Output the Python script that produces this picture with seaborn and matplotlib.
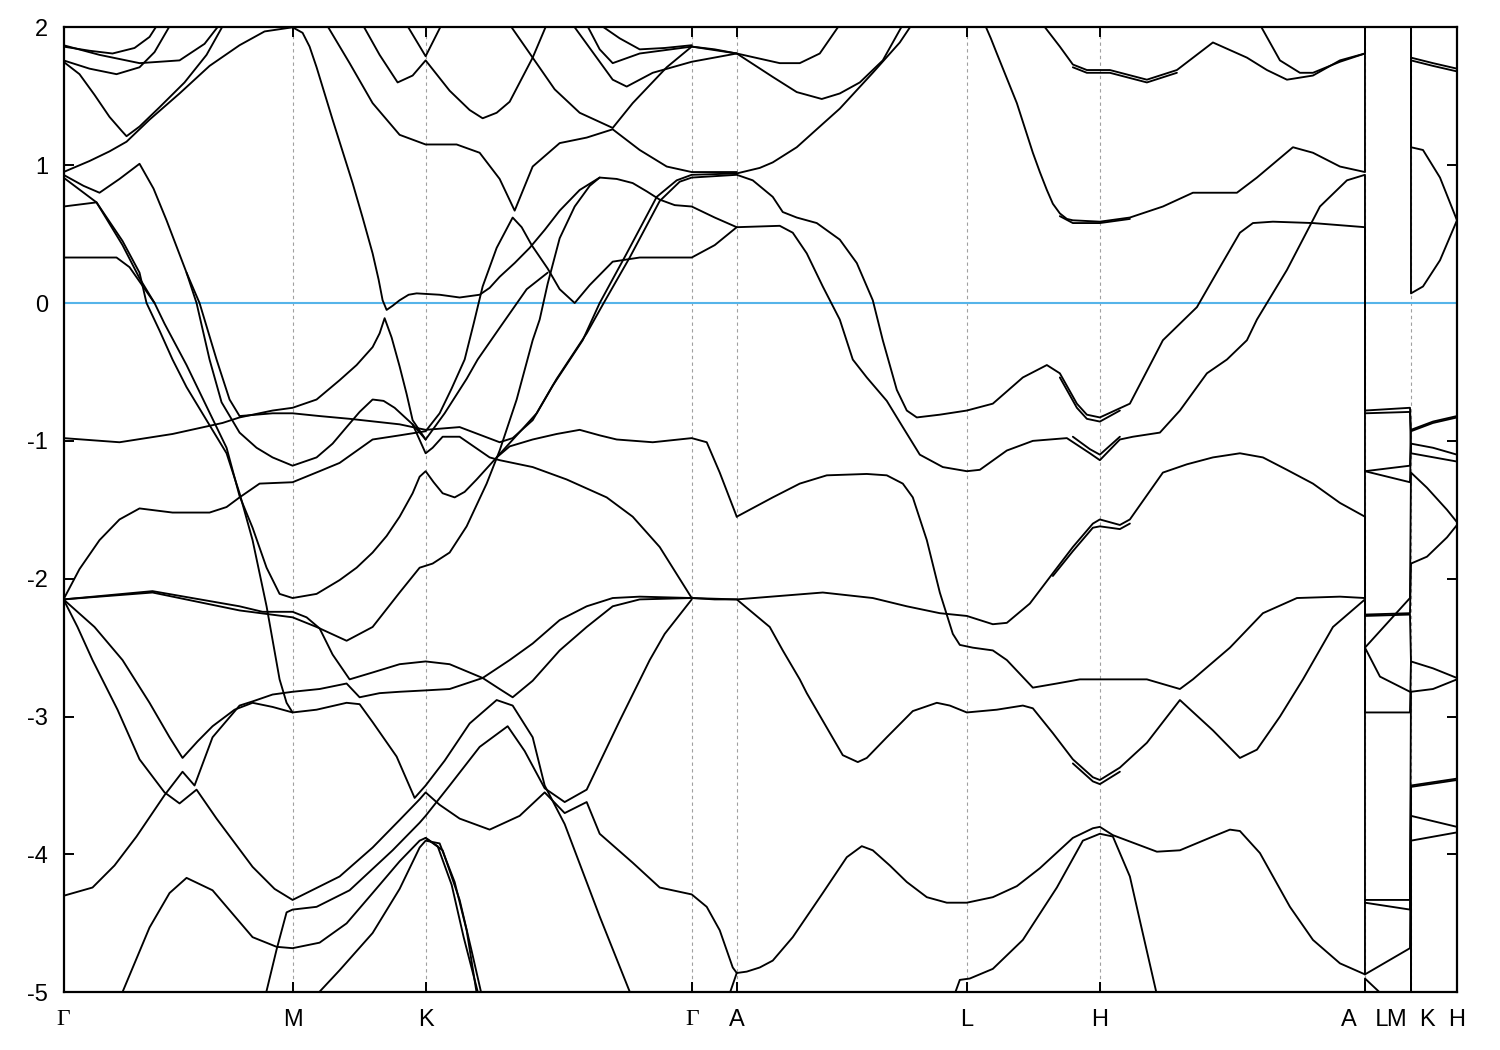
import matplotlib
matplotlib.use("Agg")
import matplotlib.pyplot as plt
import pandas as pd
import seaborn as sns

# high-symmetry path (k-path length, arbitrary units)
kpath = [0.0, 2.29, 3.62, 6.28, 6.73, 9.03, 10.36, 13.01, 13.47, 13.925]
klabels = ["Γ", "M", "K", "Γ", "A", "L", "H", "A   L", "M  K", "H"]
yticks = [2, 1, 0, -1, -2, -3, -4, -5]

# bands as (k, E) points; repeated k = path discontinuity
c01 = [(0, 1.86), (0.26, 1.83), (0.49, 1.81), (0.71, 1.85), (0.86, 1.93), (0.94, 2.02)]
c02 = [(0, 1.87), (0.36, 1.80), (0.76, 1.74), (1.16, 1.76), (1.41, 1.88), (1.56, 2.02)]
c03 = [(0, 1.76), (0.26, 1.70), (0.53, 1.66), (0.76, 1.71), (0.91, 1.82), (1.07, 2.02)]
c04 = [(0, 1.75), (0.16, 1.66), (0.31, 1.51), (0.46, 1.35), (0.58, 1.25), (0.63, 1.21),
       (0.76, 1.28), (0.96, 1.42), (1.21, 1.60), (1.43, 1.80), (1.60, 2.02)]
c05 = [(0, 0.95), (0.26, 1.03), (0.46, 1.10), (0.63, 1.17), (0.86, 1.33), (1.16, 1.52),
       (1.46, 1.72), (1.76, 1.87), (2.01, 1.97), (2.29, 2.0), (2.39, 1.96), (2.46, 1.86),
       (2.53, 1.71), (2.61, 1.52), (2.69, 1.33), (2.79, 1.10), (2.89, 0.87), (2.99, 0.62),
       (3.09, 0.36), (3.15, 0.17), (3.19, 0.02), (3.23, -0.05), (3.29, -0.02), (3.36, 0.02),
       (3.45, 0.06), (3.53, 0.07), (3.76, 0.06), (3.96, 0.04), (4.16, 0.06), (4.26, 0.11),
       (4.36, 0.19), (4.51, 0.29), (4.66, 0.40), (4.81, 0.53), (4.96, 0.67), (5.16, 0.82),
       (5.36, 0.91), (5.53, 0.90), (5.69, 0.87), (5.83, 0.81), (5.96, 0.75), (6.11, 0.71),
       (6.28, 0.70), (6.51, 0.62), (6.73, 0.55)]
c06 = [(0, 0.93), (0.20, 0.85), (0.36, 0.80), (0.56, 0.90), (0.76, 1.01), (0.90, 0.83),
       (1.03, 0.60), (1.13, 0.41), (1.23, 0.22), (1.33, 0.0), (1.46, -0.41), (1.58, -0.72),
       (1.76, -0.94), (1.93, -1.05), (2.09, -1.12), (2.29, -1.18), (2.53, -1.12), (2.69, -1.02),
       (2.83, -0.90), (2.96, -0.79), (3.09, -0.70), (3.20, -0.71), (3.31, -0.76),
       (3.49, -0.88), (3.62, -0.99)]
c07 = [(0, 0.91), (0.33, 0.73), (0.59, 0.45), (0.76, 0.22), (0.83, 0.0), (0.96, -0.20),
       (1.09, -0.41), (1.23, -0.61), (1.43, -0.85), (1.63, -1.09), (1.76, -1.38),
       (1.89, -1.72), (2.03, -2.20), (2.16, -2.73), (2.23, -2.90), (2.29, -2.97)]
c08 = [(0, 0.70), (0.33, 0.73), (0.59, 0.42), (0.76, 0.18), (0.91, 0.0), (1.01, -0.15),
       (1.23, -0.45), (1.43, -0.75), (1.63, -1.05), (1.76, -1.40), (1.89, -1.63),
       (2.03, -1.92), (2.16, -2.11), (2.29, -2.14), (2.53, -2.11), (2.76, -2.01), (2.93, -1.92),
       (3.09, -1.81), (3.23, -1.69), (3.36, -1.55), (3.49, -1.38), (3.56, -1.26), (3.62, -1.22),
       (3.70, -1.30), (3.79, -1.38), (3.91, -1.41), (4.01, -1.37), (4.13, -1.28), (4.33, -1.12),
       (4.46, -1.04), (4.69, -0.99), (4.93, -0.95), (5.16, -0.92), (5.36, -0.96), (5.53, -0.99),
       (5.89, -1.01), (6.28, -0.98), (6.43, -1.01), (6.56, -1.23), (6.73, -1.55)]
c09 = [(0, 0.33), (0.53, 0.33), (0.66, 0.26), (0.91, 0.0)]
c10 = [(0, -0.98), (0.56, -1.01), (1.09, -0.95), (1.59, -0.87), (1.76, -0.83), (2.09, -0.78),
       (2.29, -0.76), (2.53, -0.70), (2.76, -0.56), (2.93, -0.45), (3.09, -0.32), (3.16, -0.22),
       (3.21, -0.11), (3.28, -0.25), (3.36, -0.46), (3.43, -0.66), (3.49, -0.85), (3.62, -0.99)]
c11 = [(1.23, 0.22), (1.36, 0.0), (1.53, -0.41), (1.66, -0.70), (1.76, -0.82), (2.09, -0.80),
       (2.29, -0.80), (2.56, -0.82), (2.86, -0.84), (3.36, -0.88), (3.62, -0.92),
       (3.96, -0.90), (4.36, -1.01), (4.49, -0.98), (4.69, -0.85), (4.89, -0.60),
       (5.19, -0.27), (5.36, 0.0), (5.63, 0.36), (5.93, 0.77), (6.13, 0.89), (6.28, 0.93),
       (6.73, 0.94), (6.96, 0.98), (7.09, 1.02), (7.33, 1.13), (7.56, 1.28), (7.76, 1.41),
       (8.09, 1.67), (8.36, 1.89), (8.48, 2.02)]
c12 = [(4.33, -1.12), (4.53, -0.96), (4.73, -0.80), (4.93, -0.55), (5.23, -0.22), (5.40, 0.0),
       (5.66, 0.33), (5.96, 0.74), (6.16, 0.88), (6.28, 0.91), (6.73, 0.93), (6.89, 0.89),
       (7.09, 0.77), (7.19, 0.66), (7.33, 0.62), (7.53, 0.58), (7.76, 0.46), (7.93, 0.29),
       (8.09, 0.02), (8.19, -0.27), (8.33, -0.63), (8.43, -0.78), (8.53, -0.83), (8.76, -0.81),
       (9.03, -0.78), (9.29, -0.73), (9.59, -0.54), (9.83, -0.45), (9.96, -0.51),
       (10.13, -0.73), (10.23, -0.81), (10.36, -0.83), (10.66, -0.73), (10.89, -0.41),
       (10.99, -0.27), (11.33, -0.03), (11.56, 0.26), (11.76, 0.51), (11.89, 0.58),
       (12.09, 0.59), (12.49, 0.58), (13.01, 0.55), (13.01, -1.22), (13.46, -1.18),
       (13.47, -0.92), (13.69, -0.86), (13.93, -0.82)]
c12b = [(9.96, -0.54), (10.13, -0.76), (10.23, -0.84), (10.36, -0.86), (10.56, -0.78)]
c13 = [(3.49, -0.88), (3.62, -1.09), (3.69, -1.05), (3.79, -0.97), (3.96, -0.97), (4.26, -1.12),
       (4.36, -1.14), (4.69, -1.19), (5.03, -1.28), (5.43, -1.41), (5.69, -1.55), (5.96, -1.77),
       (6.28, -2.14), (6.51, -2.15), (6.73, -2.15), (7.59, -2.10), (8.09, -2.14), (8.43, -2.20),
       (8.76, -2.25), (9.03, -2.27), (9.29, -2.33), (9.43, -2.32), (9.66, -2.18), (9.89, -1.96),
       (10.09, -1.77), (10.29, -1.60), (10.36, -1.57), (10.56, -1.61), (10.66, -1.57),
       (10.99, -1.23), (11.23, -1.17), (11.49, -1.12), (11.76, -1.09), (11.99, -1.12),
       (12.23, -1.21), (12.49, -1.31), (12.76, -1.45), (13.01, -1.55), (13.01, -2.26),
       (13.46, -2.25), (13.47, -1.89), (13.63, -1.84), (13.83, -1.70), (13.93, -1.61)]
c13b = [(9.89, -1.98), (10.09, -1.80), (10.29, -1.63), (10.36, -1.62), (10.56, -1.64), (10.66, -1.60)]
c14 = [(0, -2.15), (0.16, -1.93), (0.36, -1.72), (0.56, -1.57), (0.76, -1.49), (1.09, -1.52),
       (1.46, -1.52), (1.63, -1.48), (1.76, -1.41),
       (1.96, -1.31), (2.29, -1.30), (2.56, -1.22), (2.76, -1.16), (3.09, -0.99), (3.36, -0.96),
       (3.62, -0.93), (3.76, -0.80), (3.88, -0.62), (4.01, -0.41), (4.10, -0.15), (4.19, 0.12),
       (4.33, 0.40), (4.49, 0.62), (4.58, 0.55), (4.68, 0.42), (4.84, 0.25), (4.96, 0.10),
       (5.11, 0.0), (5.26, 0.13), (5.49, 0.30), (5.76, 0.33), (6.28, 0.33), (6.51, 0.42),
       (6.73, 0.55), (7.16, 0.56), (7.29, 0.51), (7.43, 0.36), (7.59, 0.12), (7.76, -0.12),
       (7.89, -0.41), (8.03, -0.54), (8.23, -0.71), (8.39, -0.90), (8.56, -1.10), (8.79, -1.19),
       (9.03, -1.22), (9.16, -1.21), (9.43, -1.07), (9.69, -1.0), (10.03, -0.98), (10.26, -1.09),
       (10.36, -1.14), (10.56, -0.99), (10.69, -0.97), (10.96, -0.94), (11.16, -0.78),
       (11.43, -0.51), (11.63, -0.41), (11.83, -0.27), (11.93, -0.12), (12.23, 0.24),
       (12.56, 0.70), (12.83, 0.89), (13.01, 0.93), (13.01, -0.78), (13.46, -0.76),
       (13.47, -0.93), (13.69, -0.87), (13.93, -0.83)]
c14b = [(10.09, -0.97), (10.26, -1.06), (10.36, -1.10), (10.56, -0.97)]
c16 = [(2.63, 2.02), (2.86, 1.74), (3.09, 1.45), (3.36, 1.22), (3.62, 1.15), (3.93, 1.15),
       (4.16, 1.09), (4.36, 0.90), (4.51, 0.67), (4.69, 0.99), (4.96, 1.16), (5.23, 1.20),
       (5.49, 1.26), (5.76, 1.11), (6.03, 0.99), (6.28, 0.95), (6.73, 0.95)]
c17 = [(2.99, 2.02), (3.16, 1.80), (3.34, 1.60), (3.49, 1.65), (3.62, 1.76), (3.86, 1.54),
       (4.06, 1.40), (4.19, 1.34), (4.33, 1.38), (4.46, 1.46), (4.69, 1.78), (4.83, 2.02)]
c18 = [(3.43, 2.02), (3.62, 1.79), (3.78, 2.02)]
c19 = [(4.46, 2.02), (4.69, 1.78), (4.91, 1.55), (5.16, 1.38), (5.49, 1.27), (5.69, 1.45),
       (6.03, 1.71), (6.28, 1.86), (6.73, 1.81), (7.16, 1.74), (7.36, 1.74), (7.56, 1.81),
       (7.76, 2.02)]
c20 = [(5.09, 2.02), (5.36, 1.75), (5.49, 1.62), (5.63, 1.57), (5.89, 1.67), (6.28, 1.75),
       (6.73, 1.81), (7.09, 1.64), (7.33, 1.53), (7.58, 1.48), (7.76, 1.52), (7.96, 1.60),
       (8.19, 1.76), (8.39, 2.02)]
c21 = [(5.23, 2.02), (5.36, 1.84), (5.49, 1.74), (5.76, 1.81), (6.28, 1.86), (6.51, 1.84), (6.73, 1.81)]
c22 = [(5.36, 2.02), (5.56, 1.92), (5.76, 1.84), (6.01, 1.85), (6.28, 1.87)]
c23 = [(0, -2.15), (0.89, -2.10), (1.76, -2.23), (2.29, -2.28), (2.53, -2.35), (2.83, -2.45),
       (3.09, -2.35), (3.36, -2.10), (3.56, -1.92), (3.69, -1.89), (3.86, -1.81), (4.03, -1.62),
       (4.23, -1.31), (4.36, -1.07), (4.53, -0.70), (4.69, -0.27), (4.76, -0.12), (4.84, 0.14),
       (4.96, 0.47), (5.11, 0.70), (5.26, 0.85), (5.36, 0.91)]
c24 = [(0, -2.15), (0.89, -2.09), (1.76, -2.20), (1.99, -2.24), (2.29, -2.24), (2.43, -2.28),
       (2.56, -2.36), (2.69, -2.55), (2.86, -2.73), (3.09, -2.68), (3.36, -2.62), (3.62, -2.60),
       (3.86, -2.62), (4.19, -2.72), (4.36, -2.80), (4.49, -2.86), (4.69, -2.74), (4.96, -2.52),
       (5.23, -2.35), (5.49, -2.20), (5.76, -2.15), (6.28, -2.14), (6.73, -2.15), (7.06, -2.35),
       (7.19, -2.52), (7.36, -2.73), (7.43, -2.83), (7.63, -3.08), (7.79, -3.28), (7.94, -3.33),
       (8.03, -3.30), (8.23, -3.15), (8.49, -2.96), (8.73, -2.90), (8.86, -2.92), (9.03, -2.97),
       (9.33, -2.95), (9.59, -2.92), (9.69, -2.94), (9.89, -3.12), (10.09, -3.31),
       (10.29, -3.44), (10.36, -3.46), (10.56, -3.37), (10.83, -3.19), (11.16, -2.88),
       (11.49, -3.10), (11.76, -3.30), (11.93, -3.24), (12.16, -3.0), (12.39, -2.73),
       (12.69, -2.35), (13.01, -2.15), (13.01, -2.97), (13.46, -2.97), (13.47, -2.60),
       (13.69, -2.65), (13.93, -2.72)]
c24b = [(10.09, -3.34), (10.29, -3.47), (10.36, -3.49), (10.56, -3.40)]
c25 = [(0, -4.30), (0.29, -4.24), (0.51, -4.08), (0.73, -3.87), (1.01, -3.57), (1.19, -3.40),
       (1.31, -3.50), (1.49, -3.15), (1.76, -2.92), (1.89, -2.89), (2.09, -2.84), (2.29, -2.82),
       (2.56, -2.80), (2.83, -2.76), (2.96, -2.86), (3.16, -2.83), (3.36, -2.82), (3.62, -2.81),
       (3.86, -2.80), (4.19, -2.72), (4.46, -2.59), (4.69, -2.47), (4.96, -2.30), (5.23, -2.20),
       (5.49, -2.14), (5.76, -2.13), (6.28, -2.14)]
c26 = [(0, -2.15), (0.31, -2.35), (0.59, -2.59), (0.86, -2.90), (1.06, -3.15), (1.19, -3.30),
       (1.34, -3.18), (1.49, -3.07), (1.71, -2.95), (1.89, -2.90), (2.09, -2.93), (2.29, -2.97),
       (2.53, -2.95), (2.83, -2.90), (2.96, -2.91), (3.09, -3.04), (3.33, -3.29), (3.51, -3.59),
       (3.62, -3.50), (3.81, -3.32), (4.06, -3.05), (4.33, -2.88), (4.49, -2.92), (4.69, -3.15),
       (4.81, -3.50), (5.01, -3.78), (5.36, -4.45), (5.69, -5.05)]
c27 = [(0, -2.15), (0.14, -2.35), (0.29, -2.59), (0.54, -2.95), (0.76, -3.31), (1.01, -3.55),
       (1.16, -3.63), (1.33, -3.53), (1.53, -3.74), (1.89, -4.09), (2.11, -4.25), (2.29, -4.33),
       (2.76, -4.16), (3.09, -3.95), (3.36, -3.75), (3.56, -3.60), (3.62, -3.55), (3.76, -3.64),
       (3.96, -3.74), (4.26, -3.82), (4.56, -3.72), (4.81, -3.55), (5.01, -3.70), (5.23, -3.62),
       (5.36, -3.85), (5.69, -4.06), (5.96, -4.24), (6.28, -4.29), (6.43, -4.38), (6.56, -4.55),
       (6.69, -4.82), (6.73, -4.86), (6.83, -4.85), (6.96, -4.82), (7.09, -4.77), (7.29, -4.60),
       (7.59, -4.28), (7.83, -4.02), (7.98, -3.94), (8.09, -3.97), (8.26, -4.08), (8.43, -4.20),
       (8.63, -4.31), (8.83, -4.35), (9.03, -4.35), (9.29, -4.31), (9.53, -4.23), (9.76, -4.10),
       (10.09, -3.88), (10.29, -3.81), (10.36, -3.80), (10.49, -3.86), (10.93, -3.98),
       (11.16, -3.97), (11.49, -3.87), (11.66, -3.82), (11.76, -3.83), (11.96, -3.99),
       (12.26, -4.38), (12.49, -4.62), (12.76, -4.79), (13.01, -4.87), (13.01, -2.50),
       (13.16, -2.71), (13.46, -2.82), (13.47, -2.82), (13.69, -2.80), (13.93, -2.73)]
c28 = [(0.56, -5.05), (0.86, -4.53), (1.06, -4.28), (1.23, -4.17), (1.49, -4.26), (1.89, -4.60),
       (2.13, -4.67), (2.29, -4.68), (2.56, -4.64), (2.83, -4.50), (3.09, -4.28), (3.36, -4.05),
       (3.56, -3.90), (3.62, -3.88), (3.79, -3.97), (3.96, -4.33), (4.08, -4.70), (4.19, -5.05)]
c28b = [(3.62, -3.88), (3.74, -3.94), (3.88, -4.22), (4.00, -4.60), (4.16, -5.05)]
c29 = [(2.01, -5.05), (2.13, -4.69), (2.23, -4.42), (2.29, -4.40), (2.53, -4.38), (2.86, -4.26),
       (3.29, -3.97), (3.56, -3.77), (3.62, -3.72), (3.86, -3.50), (4.16, -3.22), (4.44, -3.07),
       (4.61, -3.25), (4.81, -3.52), (5.01, -3.62), (5.23, -3.53), (5.56, -3.03), (5.86, -2.59),
       (6.01, -2.40), (6.28, -2.15)]
c30 = [(2.49, -5.05), (2.76, -4.84), (3.09, -4.57), (3.36, -4.25), (3.56, -3.95), (3.62, -3.90),
       (3.76, -3.92), (3.91, -4.20), (4.03, -4.55), (4.14, -5.05)]
c31 = [(6.64, -5.05), (6.73, -4.86)]
c32 = [(8.89, -5.05), (8.96, -4.91), (9.06, -4.90), (9.29, -4.83), (9.59, -4.62), (9.93, -4.24),
       (10.19, -3.90), (10.36, -3.85), (10.49, -3.87), (10.66, -4.16), (10.76, -4.48), (10.94, -5.05)]
c33 = [(6.73, -1.55), (7.09, -1.41), (7.36, -1.31), (7.63, -1.25), (8.03, -1.24), (8.23, -1.25),
       (8.39, -1.31), (8.49, -1.41), (8.63, -1.72), (8.76, -2.10), (8.89, -2.40), (8.96, -2.48),
       (9.09, -2.50), (9.29, -2.52), (9.43, -2.59), (9.69, -2.79), (9.93, -2.76), (10.16, -2.73),
       (10.36, -2.73), (10.83, -2.73), (11.16, -2.80), (11.29, -2.73), (11.66, -2.50),
       (11.99, -2.25), (12.33, -2.14), (12.76, -2.13), (13.01, -2.14), (13.01, -1.22),
       (13.46, -1.30), (13.47, -1.02), (13.69, -1.05), (13.93, -1.10)]
c34 = [(9.21, 2.02), (9.27, 1.92), (9.33, 1.81), (9.43, 1.63), (9.53, 1.45), (9.61, 1.27),
       (9.69, 1.09), (9.76, 0.95), (9.83, 0.82), (9.89, 0.72), (9.96, 0.65), (10.03, 0.61),
       (10.09, 0.60), (10.36, 0.59), (10.66, 0.62), (10.99, 0.70), (11.29, 0.80), (11.73, 0.80),
       (11.93, 0.91), (12.29, 1.13), (12.49, 1.09), (12.76, 0.99), (13.01, 0.95), (13.01, 2.05)]
c34b = [(9.96, 0.63), (10.09, 0.58), (10.36, 0.58), (10.66, 0.61)]
c35 = [(9.79, 2.02), (9.96, 1.86), (10.09, 1.73), (10.23, 1.69), (10.46, 1.69), (10.83, 1.62),
       (11.13, 1.69), (11.49, 1.89), (11.83, 1.78), (12.03, 1.69), (12.23, 1.62), (12.49, 1.65),
       (12.76, 1.76), (13.01, 1.81), (13.01, 2.05)]
c35b = [(10.09, 1.71), (10.23, 1.67), (10.46, 1.67), (10.83, 1.60), (11.13, 1.67)]
c36 = [(11.96, 2.02), (12.16, 1.76), (12.36, 1.67), (12.49, 1.67), (12.76, 1.75), (13.01, 1.81)]
c37 = [(3.62, -0.99), (3.81, -0.80), (4.03, -0.55), (4.14, -0.41), (4.36, -0.18), (4.63, 0.10), (4.84, 0.22)]

# short L-M / K-H pieces
e01 = [(13.01, -0.80), (13.46, -0.79), (13.47, -1.09), (13.93, -1.15)]
e02 = [(13.01, -2.27), (13.46, -2.26), (13.47, -2.60)]
e03 = [(13.01, -2.50), (13.46, -2.14), (13.47, -1.23), (13.63, -1.34), (13.83, -1.50), (13.93, -1.59)]
e04 = [(13.01, -4.33), (13.46, -4.33), (13.47, -2.82)]
e05 = [(13.01, -4.35), (13.46, -4.40), (13.47, -3.50), (13.93, -3.45)]
e06 = [(13.01, -4.87), (13.46, -4.68), (13.47, -3.72), (13.93, -3.80)]
e07 = [(13.01, -5.05), (13.01, -4.90), (13.23, -5.05)]
e08 = [(13.47, -5.05), (13.47, -3.90), (13.93, -3.84)]
e09 = [(13.47, -5.05), (13.47, -3.51), (13.93, -3.46)]
e10 = [(13.47, 2.05), (13.47, 1.78), (13.69, 1.74), (13.93, 1.70)]
e11 = [(13.47, 1.76), (13.69, 1.72), (13.93, 1.68)]
e12 = [(13.47, 2.05), (13.47, 1.13), (13.59, 1.11), (13.76, 0.91), (13.93, 0.60)]
e13 = [(13.47, 2.05), (13.47, 0.07), (13.59, 0.12), (13.76, 0.31), (13.93, 0.60)]

bands = [c01, c02, c03, c04, c05, c06, c07, c08, c09, c10, c11, c12, c12b, c13, c13b,
         c14, c14b, c16, c17, c18, c19, c20, c21, c22, c23, c24, c24b, c25, c26, c27,
         c28, c28b, c29, c30, c31, c32, c33, c34, c34b, c35, c35b, c36, c37,
         e01, e02, e03, e04, e05, e06, e07, e08, e09, e10, e11, e12, e13]

rows = []
for b, pts in enumerate(bands):
    for i, (k, e) in enumerate(pts):
        rows.append((b, i, k, e))
df = pd.DataFrame(rows, columns=["band", "idx", "k", "E"])

sns.set_style("ticks")
plt.rcParams["font.family"] = ["Liberation Sans", "DejaVu Sans"]

fig = plt.figure(figsize=(15, 10.5), dpi=100)
ax = fig.add_axes([63.5 / 1500, 1 - 992.3 / 1050, 1393 / 1500, 965 / 1050])

for k in kpath[1:-1]:
    ax.axvline(k, color="#a0a0a0", lw=0.8, ls=(0, (3, 3)), zorder=0)
ax.axhline(0, color="#56b4e9", lw=1.5, zorder=1)

sns.lineplot(data=df, x="k", y="E", units="band", estimator=None, sort=False,
             color="black", linewidth=1.35, ax=ax, legend=False, zorder=2)

ax.set_xlim(kpath[0], kpath[-1])
ax.set_ylim(-5, 2)
ax.set_xticks(kpath)
ax.set_xticklabels(klabels)
for lab in ax.get_xticklabels():
    if lab.get_text() == "Γ":
        lab.set_fontfamily(["Liberation Serif", "DejaVu Serif"])
ax.set_yticks(yticks)
ax.set_yticklabels([str(v) for v in yticks])
ax.set_xlabel("")
ax.set_ylabel("")
ax.tick_params(direction="in", length=7, width=1.4, top=True, right=True,
               labelsize=17, colors="black")
ax.tick_params(axis="x", pad=12)
ax.tick_params(axis="y", pad=11)
for s in ax.spines.values():
    s.set_linewidth(1.6)
    s.set_color("black")

fig.savefig("out.png", dpi=100)
